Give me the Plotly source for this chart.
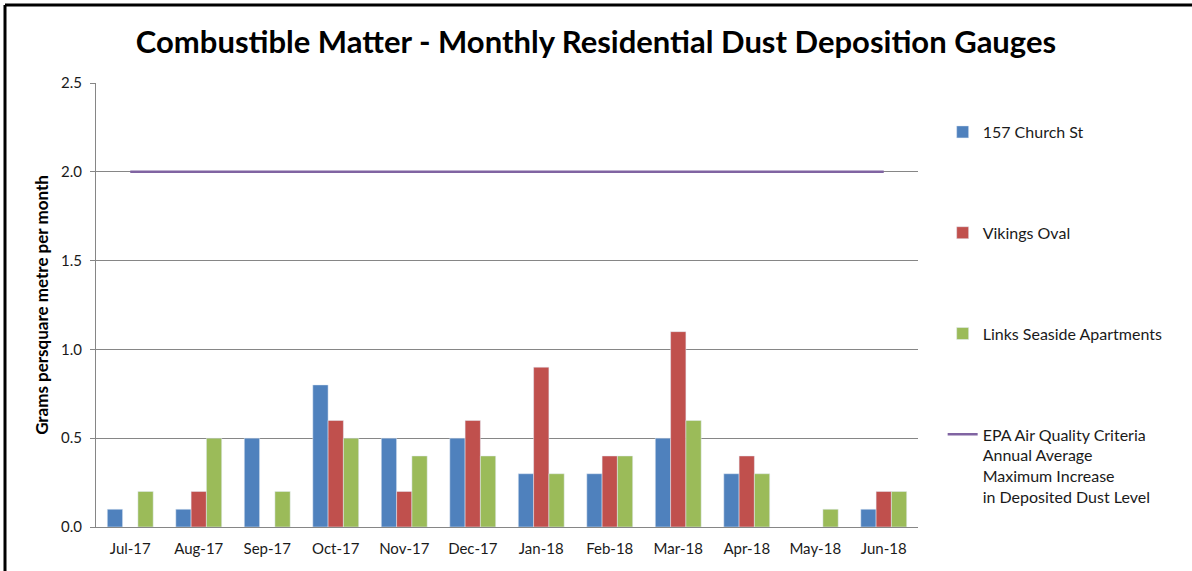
import plotly.graph_objects as go

months = ["Jul-17", "Aug-17", "Sep-17", "Oct-17", "Nov-17", "Dec-17",
          "Jan-18", "Feb-18", "Mar-18", "Apr-18", "May-18", "Jun-18"]
church_st = [0.1, 0.1, 0.5, 0.8, 0.5, 0.5, 0.3, 0.3, 0.5, 0.3, None, 0.1]
vikings_oval = [None, 0.2, None, 0.6, 0.2, 0.6, 0.9, 0.4, 1.1, 0.4, None, 0.2]
links_seaside = [0.2, 0.5, 0.2, 0.5, 0.4, 0.4, 0.3, 0.4, 0.6, 0.3, 0.1, 0.2]
epa_criteria = [2.0] * 12

FONT = "Lato"
TXT = "#1a1a1a"

fig = go.Figure()
fig.add_trace(go.Bar(x=months, y=church_st, name="157 Church St",
                     marker_color="#4F81BD", legendgroup="a"))
fig.add_trace(go.Bar(x=months, y=vikings_oval, name="Vikings Oval",
                     marker_color="#C0504D", legendgroup="b"))
fig.add_trace(go.Bar(x=months, y=links_seaside, name="Links Seaside Apartments",
                     marker_color="#9BBB59", legendgroup="c"))
fig.add_trace(go.Scatter(x=months, y=epa_criteria, mode="lines",
                         name="EPA Air Quality Criteria<br>Annual Average<br>Maximum Increase<br>in Deposited Dust Level",
                         line=dict(color="#8064A2", width=2.5), legendgroup="d"))

fig.update_layout(
    width=1192, height=571,
    margin=dict(l=96, r=274, t=83, b=44),
    paper_bgcolor="white", plot_bgcolor="white",
    barmode="group", bargap=0.33, bargroupgap=0,
    font=dict(family=FONT, color=TXT, size=15),
    title=dict(text="<b>Combustible Matter - Monthly Residential Dust Deposition Gauges</b>",
               x=0.5, xanchor="center", y=1 - 42 / 571, yanchor="middle",
               font=dict(family=FONT, size=31, color="black")),
    legend=dict(x=1.03, xanchor="left", y=1.0 - (132 - 83 - 17) / 444, yanchor="top",
                tracegroupgap=77, valign="top",
                font=dict(family=FONT, size=16, color=TXT),
                bgcolor="rgba(0,0,0,0)"),
    showlegend=True,
)
fig.update_xaxes(showline=True, linecolor="#868686", linewidth=1,
                 ticks="", tickfont=dict(size=15, family=FONT, color=TXT),
                 ticklabelstandoff=8, showgrid=False)
fig.update_yaxes(range=[0, 2.5], dtick=0.5, tickformat=".1f",
                 showline=True, linecolor="#868686", linewidth=1,
                 ticks="outside", ticklen=5, tickcolor="#868686",
                 showgrid=True, gridcolor="#868686", gridwidth=1,
                 zeroline=False, ticklabelstandoff=5,
                 tickfont=dict(size=15, family=FONT, color=TXT),
                 title=dict(text="<b>Grams persquare metre per month</b>",
                            font=dict(size=17, family=FONT, color="black"),
                            standoff=8))

# outer border (top and left visible)
fig.add_shape(type="line", xref="paper", yref="paper",
              x0=(5 - 96) / 822, x1=1.5, y0=1 + (83 - 5) / 444, y1=1 + (83 - 5) / 444,
              line=dict(color="black", width=3))
fig.add_shape(type="line", xref="paper", yref="paper",
              x0=(5 - 96) / 822, x1=(5 - 96) / 822, y0=-0.2, y1=1 + (83 - 5) / 444,
              line=dict(color="black", width=3))

fig.write_html("out.html", config={"displayModeBar": False},
               post_script="document.body.style.margin='0';")
